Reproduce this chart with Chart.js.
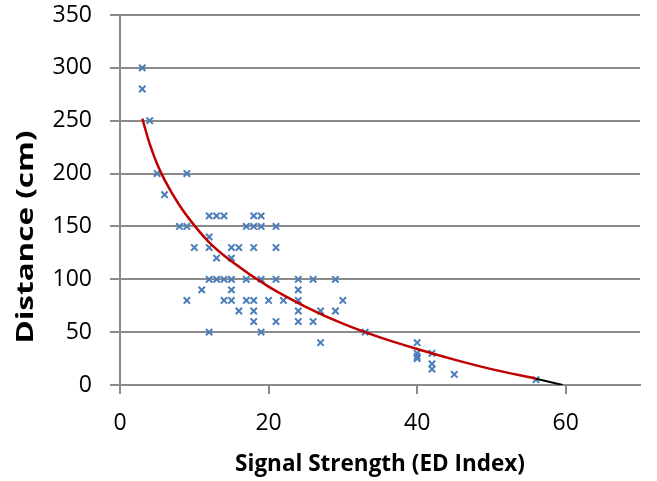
<!DOCTYPE html>
<html>
<head>
<meta charset="utf-8">
<script src="https://cdn.jsdelivr.net/npm/chart.js@4/dist/chart.umd.min.js"></script>
<style>
  html, body { margin: 0; padding: 0; background: #fff; }
</style>
</head>
<body>
<canvas id="chart" width="657" height="481"></canvas>
<script>
// measured points (signal strength vs distance)
const signalX = [3, 3, 4, 5, 9, 6,
  12, 13, 14, 18, 19,
  8, 9, 17, 18, 19, 21,
  12,
  10, 12, 15, 16, 18, 21,
  13, 15,
  12, 13, 14, 15, 17, 19, 21, 24, 26, 29,
  11, 15, 24,
  9, 14, 15, 17, 18, 20, 22, 24, 30,
  16, 18, 24, 27, 29,
  18, 21, 24, 26,
  12, 19, 33,
  27, 40,
  40, 40, 40, 42, 42, 42,
  45, 56];
const distanceY = [300, 280, 250, 200, 200, 180,
  160, 160, 160, 160, 160,
  150, 150, 150, 150, 150, 150,
  140,
  130, 130, 130, 130, 130, 130,
  120, 120,
  100, 100, 100, 100, 100, 100, 100, 100, 100, 100,
  90, 90, 90,
  80, 80, 80, 80, 80, 80, 80, 80, 80,
  70, 70, 70, 70, 70,
  60, 60, 60, 60,
  50, 50, 50,
  40, 40,
  30, 27, 25, 30, 20, 15,
  10, 5];

// trend line
const trendX = [3, 4, 5, 6, 8, 10, 12, 15, 20, 25, 30, 35, 40, 45, 50, 56];
const trendY = [252, 228, 209, 194, 170, 151, 135, 117, 93, 74, 58, 45, 34, 24, 15, 6];
const extX = [56, 59.6];
const extY = [6, 0];

const xTicks = [0, 20, 40, 60];
const yTicks = [0, 50, 100, 150, 200, 250, 300, 350];

const toPts = (xs, ys) => xs.map((x, i) => ({ x: x, y: ys[i] }));

const gridColor = '#8a8a8a';
const fontFamily = '"Open Sans", "DejaVu Sans", sans-serif';

// y axis title: drawn by hand, it sits below centre and runs long in the original
const yTitlePlugin = {
  id: 'yTitle',
  afterDraw(chart) {
    const ctx = chart.ctx;
    const a = chart.chartArea;
    const text = 'Distance (cm)';
    ctx.save();
    ctx.font = 'bold 22.5px ' + fontFamily;
    const w = ctx.measureText(text).width;
    ctx.translate(27, a.top + (a.bottom - a.top) * 0.6);
    ctx.rotate(-Math.PI / 2);
    ctx.scale(213 / w, 1);
    ctx.fillStyle = '#000';
    ctx.textAlign = 'center';
    ctx.textBaseline = 'middle';
    ctx.fillText(text, 0, 0);
    ctx.restore();
  }
};

new Chart(document.getElementById('chart'), {
  type: 'scatter',
  data: {
    datasets: [{
      label: 'Trend',
      type: 'line',
      data: toPts(trendX, trendY),
      borderColor: '#c00000',
      borderWidth: 2.5,
      pointRadius: 0,
      cubicInterpolationMode: 'monotone',
      fill: false
    }, {
      label: 'Forecast',
      type: 'line',
      data: toPts(extX, extY),
      borderColor: '#000',
      borderWidth: 2,
      pointRadius: 0,
      fill: false
    }, {
      label: 'Distance',
      data: toPts(signalX, distanceY),
      pointStyle: 'crossRot',
      pointRadius: 4.5,
      borderColor: '#4a7ebb',
      backgroundColor: '#4a7ebb',
      pointBorderWidth: 2
    }]
  },
  options: {
    responsive: false,
    animation: false,
    devicePixelRatio: 1,
    layout: { padding: { top: 15, right: 17, bottom: 0, left: 0 } },
    plugins: {
      legend: { display: false },
      tooltip: { enabled: false }
    },
    scales: {
      x: {
        type: 'linear',
        min: 0,
        max: 70,
        afterBuildTicks: s => { s.ticks = xTicks.map(v => ({ value: v })); },
        afterFit: s => { s.height = 96; s.paddingLeft = 0; s.paddingRight = 0; },
        grid: {
          drawOnChartArea: false,
          drawTicks: true,
          tickLength: 9,
          color: gridColor,
          lineWidth: 2
        },
        border: { color: gridColor, width: 2 },
        ticks: {
          padding: 16,
          color: '#000',
          font: { family: fontFamily, size: 23 },
          maxRotation: 0
        },
        title: {
          display: true,
          text: 'Signal Strength (ED Index)',
          color: '#000',
          font: { family: fontFamily, size: 22.5, weight: 'bold' },
          padding: { top: 0, bottom: 3 }
        }
      },
      y: {
        type: 'linear',
        min: 0,
        max: 350,
        afterBuildTicks: s => { s.ticks = yTicks.map(v => ({ value: v })); },
        afterFit: s => { s.width = 120; s.paddingTop = 0; s.paddingBottom = 0; },
        grid: {
          drawTicks: true,
          tickLength: 10,
          color: gridColor,
          lineWidth: 2
        },
        border: { color: gridColor, width: 2 },
        ticks: {
          padding: 18,
          color: '#000',
          font: { family: fontFamily, size: 23 }
        }
      }
    }
  },
  plugins: [yTitlePlugin]
});
</script>
</body>
</html>
